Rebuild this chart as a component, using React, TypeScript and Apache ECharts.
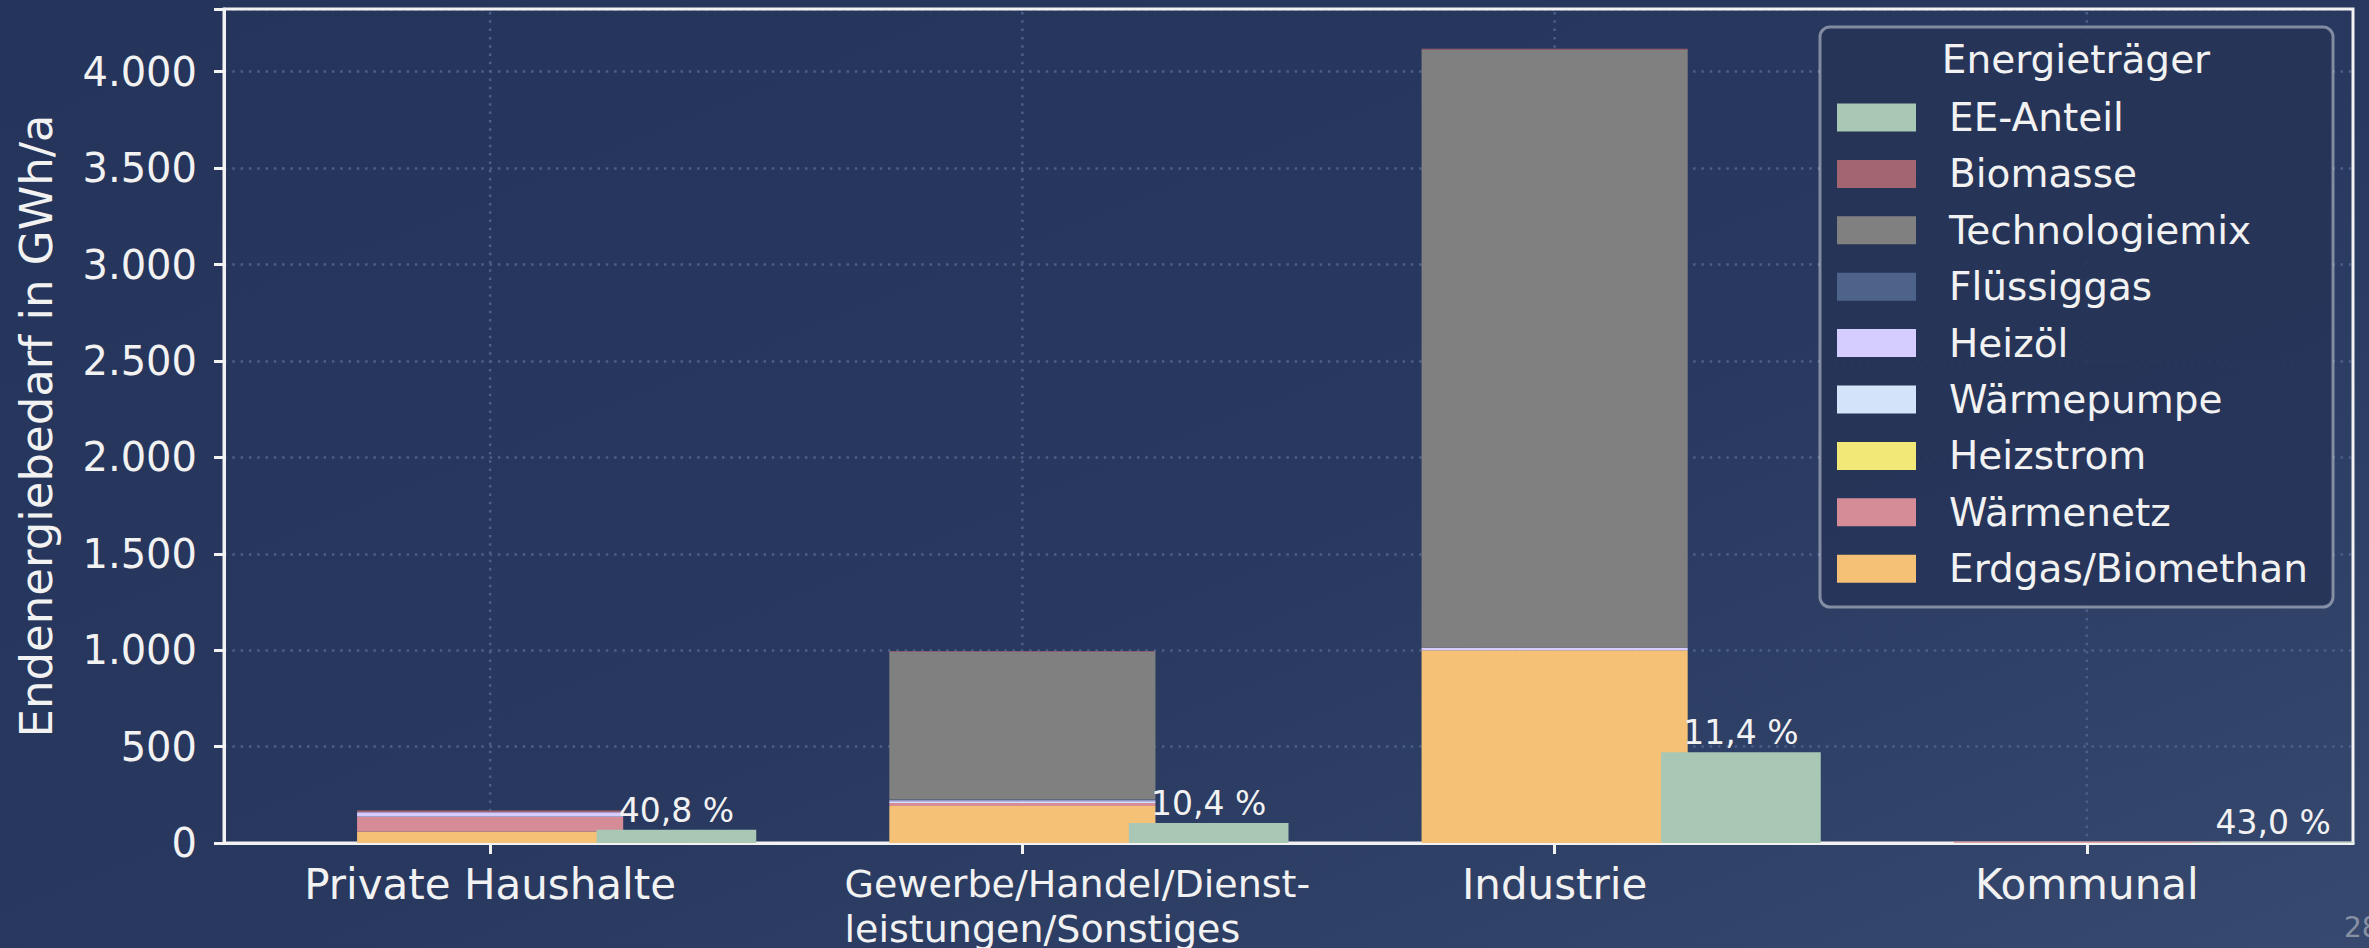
import React, { useEffect, useRef } from "react";
import * as echarts from "echarts";

const categories = [
  "Private Haushalte",
  "Gewerbe/Handel/Dienst-\nleistungen/Sonstiges",
  "Industrie",
  "Kommunal",
];

// stacked energy carriers, bottom to top (GWh/a)
const erdgas = [60, 192, 1000, 1];
const waermenetz = [76, 16, 0, 5];
const heizstrom = [0, 0, 0, 0];
const waermepumpe = [2, 6, 0, 0];
const heizoel = [21, 8, 12, 0];
const fluessiggas = [1, 4, 0, 0];
const technologiemix = [0, 766, 3102, 0];
const biomasse = [8, 4, 5, 2];

// renewable share bar
const eeValues = [68.5, 104, 470, 3.4];
const eeLabels = ["40,8 %", "10,4 %", "11,4 %", "43,0 %"];

const yTicks = [0, 500, 1000, 1500, 2000, 2500, 3000, 3500, 4000];

const legendOrder = [
  "EE-Anteil",
  "Biomasse",
  "Technologiemix",
  "Flüssiggas",
  "Heizöl",
  "Wärmepumpe",
  "Heizstrom",
  "Wärmenetz",
  "Erdgas/Biomethan",
];

const FONT = "DejaVu Sans";
const TXT = "#f2f2f2";
const GRID = "#4b5f8a";

export default function App() {
  const ref = useRef<HTMLDivElement>(null);

  useEffect(() => {
    if (!ref.current) return;
    const chart = echarts.init(ref.current, undefined, { renderer: "svg" });

    const stackDefs: [string, number[], string][] = [
      ["Erdgas/Biomethan", erdgas, "#f4c176"],
      ["Wärmenetz", waermenetz, "#d68c97"],
      ["Heizstrom", heizstrom, "#f1e878"],
      ["Wärmepumpe", waermepumpe, "#d3e3fa"],
      ["Heizöl", heizoel, "#d5cdff"],
      ["Flüssiggas", fluessiggas, "#4e6389"],
      ["Technologiemix", technologiemix, "#808080"],
      ["Biomasse", biomasse, "#a3656f"],
    ];

    const stackSeries = stackDefs.map(([name, data, color]) => ({
      name,
      type: "bar",
      stack: "total",
      barWidth: "50%",
      data,
      itemStyle: { color },
      z: 2,
    }));

    const eeSeries = {
      name: "EE-Anteil",
      type: "custom",
      z: 3,
      itemStyle: { color: "#a8c8b5" },
      data: eeValues.map((v, i) => [i, v]),
      renderItem: (params: any, api: any) => {
        const cat = api.value(0);
        const v = api.value(1);
        const base = api.coord([cat, 0]);
        const top = api.coord([cat, v]);
        const bw = api.size([1, 0])[0];
        const cx = base[0] + 0.35 * bw;
        const w = 0.3 * bw;
        return {
          type: "group",
          children: [
            {
              type: "rect",
              shape: { x: cx - w / 2, y: top[1], width: w, height: base[1] - top[1] },
              style: { fill: "#a8c8b5" },
            },
            {
              type: "text",
              x: cx,
              y: top[1] - 3,
              style: {
                text: eeLabels[params.dataIndex],
                fill: TXT,
                fontFamily: FONT,
                fontSize: 33,
                align: "center",
                verticalAlign: "bottom",
              },
            },
          ],
        };
      },
    };

    const vGridSeries = {
      name: "vgrid",
      type: "custom",
      z: 1,
      silent: true,
      data: categories.map((_, i) => [i]),
      renderItem: (params: any, api: any) => {
        const p = api.coord([api.value(0), 0]);
        const cs = params.coordSys;
        return {
          type: "line",
          shape: { x1: p[0], y1: cs.y + 3, x2: p[0], y2: cs.y + cs.height },
          style: { stroke: GRID, lineWidth: 2.5, lineDash: [2.5, 5.8] },
        };
      },
    };

    const option: any = {
      animation: false,
      backgroundColor: {
        type: "linear",
        x: 0,
        y: 0,
        x2: 1,
        y2: 1,
        colorStops: [
          { offset: 0, color: "#25345a" },
          { offset: 0.55, color: "#28385e" },
          { offset: 1, color: "#37496f" },
        ],
      },
      textStyle: { fontFamily: FONT },
      grid: {
        left: 224,
        right: 16,
        top: 9,
        bottom: 105,
        show: true,
        z: 1,
        borderColor: "#f2f2f2",
        borderWidth: 3,
        backgroundColor: "transparent",
      },
      xAxis: {
        type: "category",
        data: categories,
        z: 1,
        axisLine: { show: true, lineStyle: { color: "#f2f2f2", width: 3 } },
        axisTick: { show: true, alignWithLabel: true, length: 11, lineStyle: { color: "#f2f2f2", width: 3 } },
        splitLine: { show: false },
        axisLabel: {
          margin: 18,
          interval: 0,
          formatter: (v: string) =>
            v.indexOf("\n") >= 0
              ? v.split("\n").map((s) => `{g|${s}}`).join("\n")
              : `{n|${v}}`,
          rich: {
            n: { fontFamily: FONT, fontSize: 42, color: TXT, lineHeight: 46 },
            g: {
              fontFamily: FONT,
              fontSize: 38,
              color: TXT,
              lineHeight: 45,
              align: "left",
              padding: [0, 0, 0, 110],
            },
          },
        },
      },
      yAxis: {
        type: "value",
        min: 0,
        max: 4325,
        interval: 500,
        z: 0,
        name: "Endenergiebedarf in GWh/a",
        nameLocation: "middle",
        nameGap: 165,
        nameTextStyle: { fontFamily: FONT, fontSize: 45, color: TXT },
        axisLine: { show: true, lineStyle: { color: "#f2f2f2", width: 3 } },
        axisTick: { show: true, length: 10, lineStyle: { color: "#f2f2f2", width: 3 } },
        axisLabel: {
          margin: 27,
          fontFamily: FONT,
          fontSize: 40,
          color: TXT,
          formatter: (v: number) =>
            yTicks.indexOf(v) >= 0 ? String(v).replace(/\B(?=(\d{3})+(?!\d))/g, ".") : "",
        },
        splitLine: {
          show: true,
          lineStyle: { color: GRID, width: 2.5, type: [2.5, 5.8] },
        },
      },
      legend: {
        data: legendOrder,
        orient: "vertical",
        left: 1837,
        top: 98,
        padding: 0,
        itemWidth: 79,
        itemHeight: 28,
        itemGap: 17.4,
        icon: "rect",
        selectedMode: false,
        z: 7,
        textStyle: {
          fontFamily: FONT,
          fontSize: 39,
          color: TXT,
          padding: [0, 0, 0, 28],
        },
      },
      graphic: [
        {
          type: "rect",
          z: 6,
          shape: { x: 1820, y: 27, width: 513, height: 580, r: 10 },
          style: { fill: "rgba(38,52,88,0.92)", stroke: "rgba(205,210,220,0.55)", lineWidth: 3 },
        },
        {
          type: "text",
          z: 7,
          x: 2076,
          y: 59,
          style: {
            text: "Energieträger",
            fill: TXT,
            fontFamily: FONT,
            fontSize: 39,
            align: "center",
            verticalAlign: "middle",
          },
        },
        {
          type: "text",
          z: 7,
          x: 2344,
          y: 927,
          style: {
            text: "28",
            fill: "#8890a4",
            fontFamily: FONT,
            fontSize: 28,
            align: "left",
            verticalAlign: "middle",
          },
        },
      ],
      series: [vGridSeries, ...stackSeries, eeSeries],
    };

    chart.setOption(option);
    return () => chart.dispose();
  }, []);

  return (
    <div
      ref={ref}
      style={{ position: "absolute", left: 0, top: 0, width: 2369, height: 948 }}
    />
  );
}
